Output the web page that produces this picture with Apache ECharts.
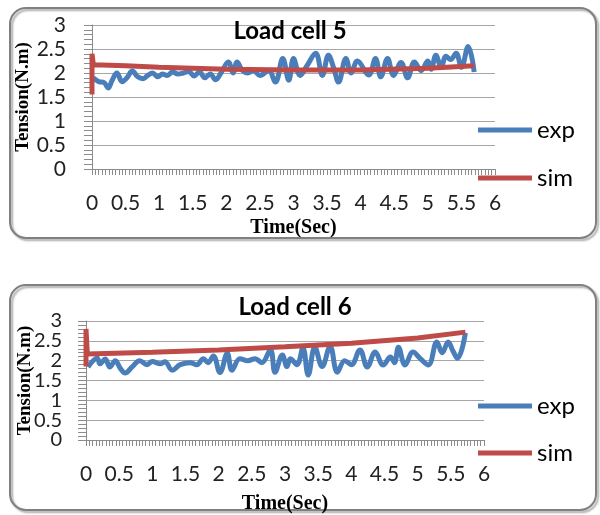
<!DOCTYPE html>
<html>
<head>
<meta charset="utf-8">
<script src="https://cdn.jsdelivr.net/npm/echarts@6/dist/echarts.min.js"></script>
<style>
    html, body { margin: 0; padding: 0; background: #fff; }
    #chart { width: 600px; height: 515px; }
</style>
</head>
<body>
<div id="chart"></div>
<script>
// Load cell 5
var expTime5 = [0.02, 0.1, 0.18, 0.24, 0.3, 0.37, 0.45, 0.52, 0.6, 0.68,
    0.76, 0.83, 0.9, 0.98, 1.05, 1.12, 1.2, 1.28, 1.36, 1.44,
    1.52, 1.6, 1.68, 1.76, 1.84, 1.92, 2.03, 2.1, 2.16, 2.24,
    2.32, 2.4, 2.5, 2.63, 2.73, 2.84, 2.93, 3.0, 3.1, 3.2,
    3.33, 3.43, 3.52, 3.6, 3.67, 3.78, 3.86, 3.95, 4.12, 4.22,
    4.3, 4.4, 4.49, 4.6, 4.7, 4.8, 4.9, 5.0, 5.05, 5.12,
    5.2, 5.27, 5.34, 5.42, 5.5, 5.6, 5.69];
var expTension5 = [1.9, 1.82, 1.8, 1.69, 1.85, 2.0, 1.82, 1.9, 2.04, 1.92,
    1.88, 1.95, 2.0, 1.92, 1.98, 1.95, 2.02, 1.98, 2.0, 2.03,
    1.94, 2.02, 1.9, 1.98, 1.86, 2.0, 2.23, 2.0, 2.23, 2.05,
    2.0, 2.05, 1.95, 2.05, 1.81, 2.3, 1.85, 2.3, 1.95, 2.15,
    2.41, 1.95, 2.37, 2.1, 1.81, 2.3, 2.0, 2.25, 1.96, 2.3,
    1.92, 2.3, 1.95, 2.22, 1.9, 2.23, 2.05, 2.25, 2.08, 2.37,
    2.12, 2.35, 2.28, 2.41, 2.12, 2.55, 2.02];
var simTime5 = [0, 0, 0.02, 0.5, 1, 2, 3, 4, 5, 5.69];
var simTension5 = [1.55, 2.4, 2.17, 2.15, 2.12, 2.08, 2.06, 2.06, 2.1, 2.15];

// Load cell 6
var expTime6 = [0.03, 0.17, 0.21, 0.29, 0.36, 0.44, 0.52, 0.59, 0.7, 0.81,
    0.92, 1.0, 1.12, 1.19, 1.3, 1.42, 1.57, 1.67, 1.77, 1.84,
    1.92, 2.02, 2.13, 2.2, 2.32, 2.44, 2.55, 2.65, 2.78, 2.85,
    2.96, 3.03, 3.08, 3.18, 3.27, 3.35, 3.45, 3.56, 3.68, 3.79,
    3.9, 4.0, 4.13, 4.24, 4.36, 4.48, 4.59, 4.65, 4.71, 4.81,
    4.93, 5.04, 5.16, 5.29, 5.37, 5.46, 5.53, 5.6, 5.72];
var expTension6 = [1.84, 2.06, 1.92, 2.04, 1.84, 2.0, 1.8, 1.69, 1.85, 2.0,
    1.9, 1.98, 1.92, 1.97, 1.76, 1.9, 1.95, 1.9, 2.05, 1.95,
    2.12, 1.7, 2.19, 1.76, 2.05, 2.0, 2.05, 1.95, 2.27, 1.71,
    2.14, 1.85, 2.05, 1.9, 2.32, 1.64, 2.34, 1.85, 2.36, 1.71,
    2.0, 1.9, 2.27, 1.84, 2.22, 1.89, 2.09, 1.95, 2.34, 1.89,
    2.22, 2.05, 1.89, 2.47, 2.2, 2.47, 2.25, 2.06, 2.7];
var simTime6 = [0, 0, 0.02, 1, 2, 3, 4, 5, 5.72];
var simTension6 = [1.85, 2.8, 2.17, 2.21, 2.27, 2.35, 2.44, 2.57, 2.72];

var titles = ['Load cell 5', 'Load cell 6'];
var xTitle = 'Time(Sec)';
var yTitle = 'Tension(N.m)';

var sansFont = 'Lato';
var serifFont = 'Liberation Serif';
var blue = '#4a7ebb';
var red = '#be4b48';

function pairs(xs, ys) {
    var out = [];
    for (var i = 0; i < xs.length; i++) {
        out.push([xs[i], ys[i]]);
    }
    return out;
}

function makeXAxis(gridIndex, gap, margin) {
    return {
        gridIndex: gridIndex,
        type: 'value',
        min: 0, max: 6, interval: 0.5,
        name: xTitle,
        nameLocation: 'middle',
        nameGap: gap,
        nameMoveOverlap: false,
        nameTextStyle: { fontFamily: serifFont, fontWeight: 'bold', fontSize: 20, color: '#000' },
        axisLine: { lineStyle: { color: '#8c8c8c' } },
        axisTick: { show: true, length: 6, lineStyle: { color: '#8c8c8c' } },
        minorTick: { show: true, splitNumber: 10, length: 6, lineStyle: { color: '#8c8c8c' } },
        axisLabel: { margin: margin, fontFamily: sansFont, fontSize: 21, color: '#222',
            hideOverlap: false, showMinLabel: true, showMaxLabel: true },
        splitLine: { show: false }
    };
}

function makeYAxis(gridIndex, gap, margin, size) {
    return {
        gridIndex: gridIndex,
        type: 'value',
        min: 0, max: 3, interval: 0.5,
        name: yTitle,
        nameLocation: 'middle',
        nameGap: gap,
        nameMoveOverlap: false,
        nameTextStyle: { fontFamily: serifFont, fontWeight: 'bold', fontSize: 19, color: '#000' },
        axisLine: { show: true, lineStyle: { color: '#8c8c8c' } },
        axisTick: { show: true, length: 8, lineStyle: { color: '#8c8c8c' } },
        minorTick: { show: true, splitNumber: 5, length: 8, lineStyle: { color: '#8c8c8c' } },
        axisLabel: { margin: margin, fontFamily: sansFont, fontSize: size, color: '#222',
            hideOverlap: false, showMinLabel: true, showMaxLabel: true },
        splitLine: { lineStyle: { color: '#a6a6a6' } }
    };
}

function lineSeries(name, color, idx, data, smooth) {
    return {
        name: name,
        type: 'line',
        xAxisIndex: idx,
        yAxisIndex: idx,
        data: data,
        symbol: 'none',
        smooth: smooth,
        color: color,
        lineStyle: { width: 5, color: color }
    };
}

var chart = echarts.init(document.getElementById('chart'));

var option = {
    animation: false,
    graphic: [
        {
            type: 'rect',
            shape: { x: 10, y: 8, width: 586, height: 230, r: 16 },
            style: { fill: 'none', stroke: '#808080', lineWidth: 2,
                shadowColor: 'rgba(0,0,0,0.35)', shadowBlur: 2, shadowOffsetX: 2, shadowOffsetY: 2 },
            z: -1
        },
        {
            type: 'rect',
            shape: { x: 10, y: 285, width: 586, height: 225, r: 16 },
            style: { fill: 'none', stroke: '#808080', lineWidth: 2,
                shadowColor: 'rgba(0,0,0,0.35)', shadowBlur: 2, shadowOffsetX: 2, shadowOffsetY: 2 },
            z: -1
        }
    ],
    title: [
        { text: titles[0], left: 285, top: 14, textAlign: 'center',
            textStyle: { fontFamily: sansFont, fontWeight: 'bold', fontSize: 24, color: '#000' } },
        { text: titles[1], left: 290, top: 290, textAlign: 'center',
            textStyle: { fontFamily: sansFont, fontWeight: 'bold', fontSize: 24, color: '#000' } }
    ],
    legend: [
        { orient: 'vertical', left: 473, top: 113, itemWidth: 54, itemHeight: 5, itemGap: 24,
            icon: 'rect', data: ['exp', 'sim'],
            textStyle: { fontFamily: sansFont, fontSize: 24, color: '#000' } },
        { orient: 'vertical', left: 473, top: 389, itemWidth: 54, itemHeight: 5, itemGap: 23,
            icon: 'rect', data: ['exp', 'sim'],
            textStyle: { fontFamily: sansFont, fontSize: 24, color: '#000' } }
    ],
    grid: [
        { left: 92, right: 105, top: 25, height: 144 },
        { left: 86, right: 116, top: 321, height: 119 }
    ],
    xAxis: [makeXAxis(0, 49, 24), makeXAxis(1, 54, 24)],
    yAxis: [makeYAxis(0, 59, 26, 21), makeYAxis(1, 51, 24, 20)],
    series: [
        lineSeries('exp', blue, 0, pairs(expTime5, expTension5), 0.4),
        lineSeries('sim', red, 0, pairs(simTime5, simTension5), false),
        lineSeries('exp', blue, 1, pairs(expTime6, expTension6), 0.4),
        lineSeries('sim', red, 1, pairs(simTime6, simTension6), false)
    ]
};

chart.setOption(option);
</script>
</body>
</html>
